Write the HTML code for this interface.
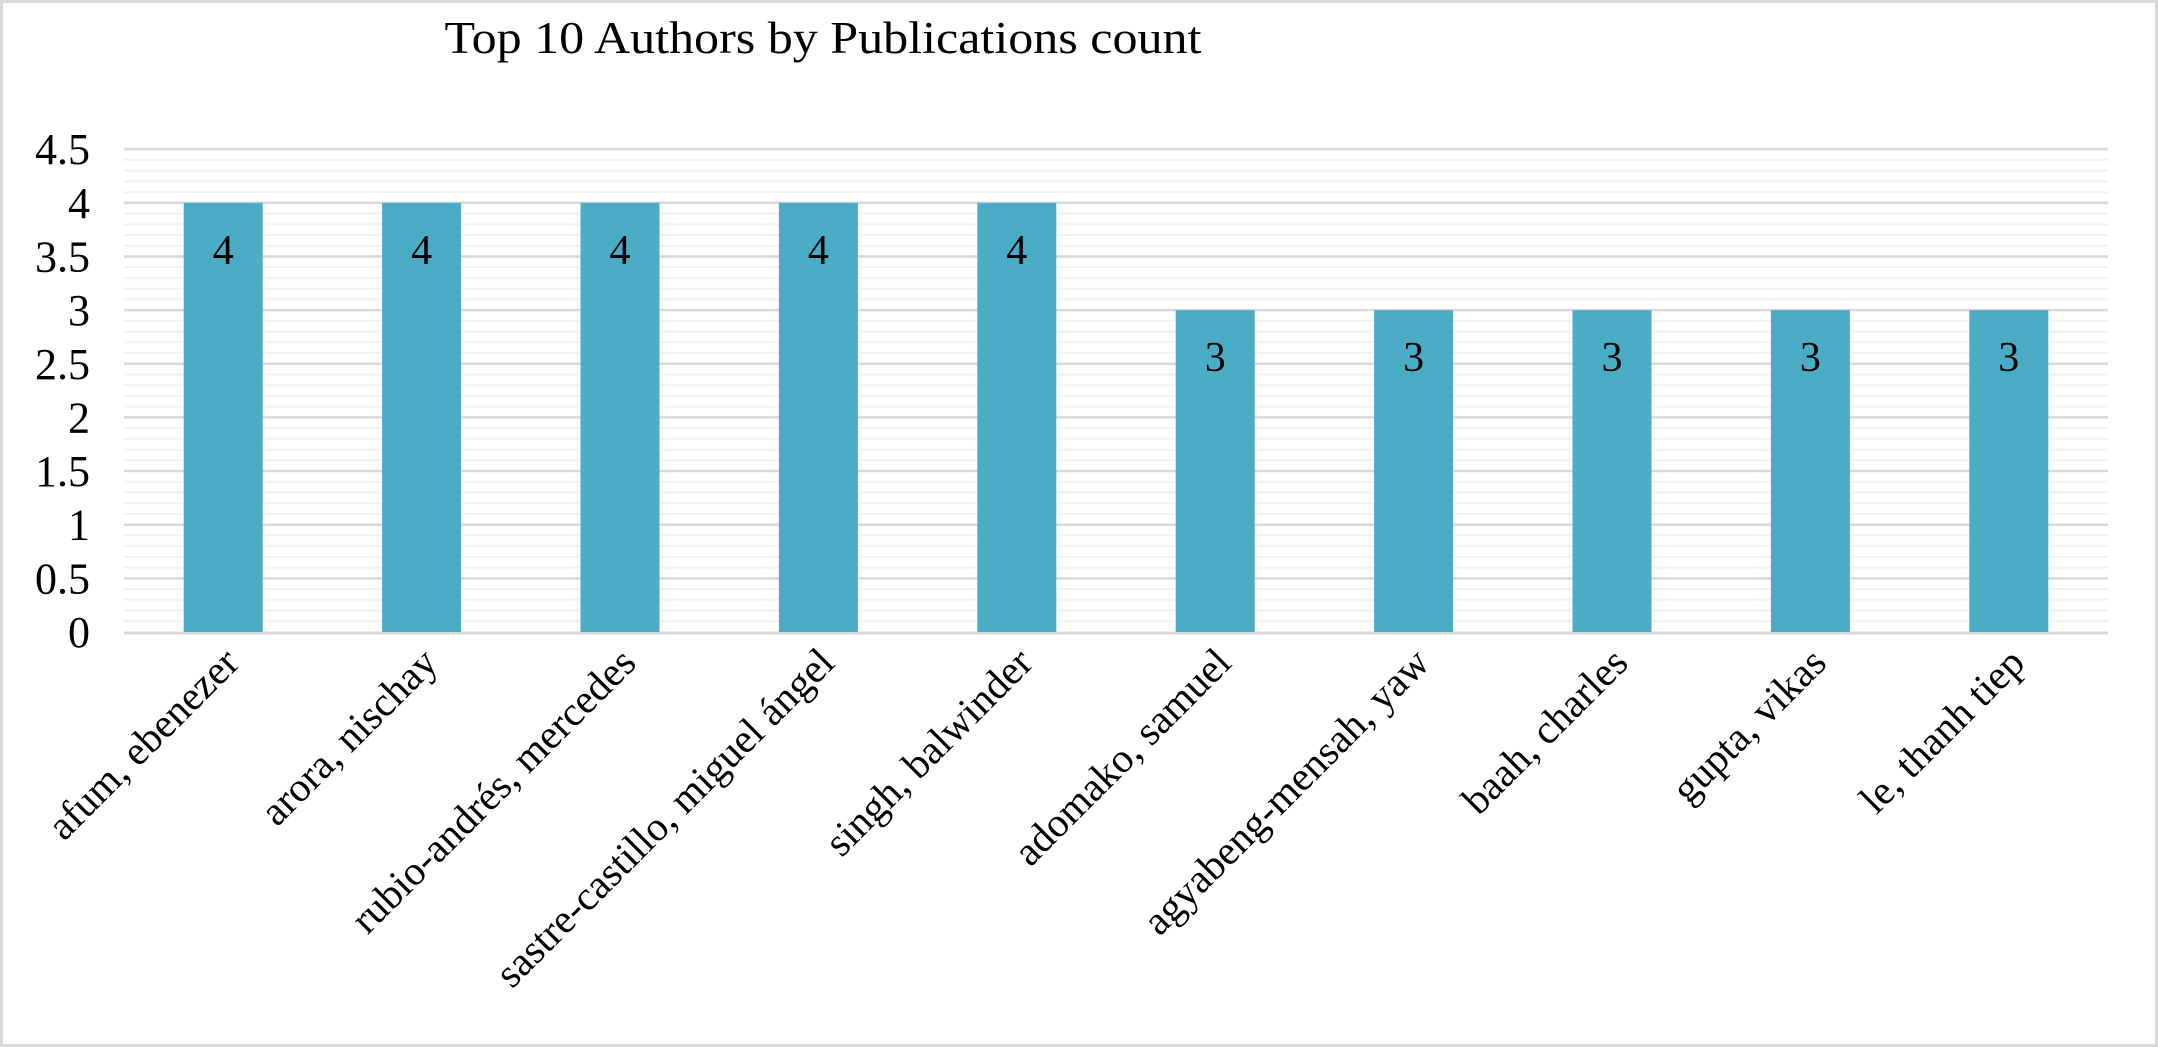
<!DOCTYPE html>
<html><head><meta charset="utf-8"><style>html,body{margin:0;padding:0;background:#fff}svg{display:block}</style></head>
<body>
<svg width="2158" height="1047" viewBox="0 0 2158 1047" xmlns="http://www.w3.org/2000/svg" font-family="'Liberation Serif', serif">
<rect x="1.5" y="1.5" width="2155" height="1044" fill="#fff" stroke="#d9d9d9" stroke-width="3"/>
<text x="823" y="53" font-size="45" text-anchor="middle" textLength="757" lengthAdjust="spacingAndGlyphs">Top 10 Authors by Publications count</text>
<g id="minor" stroke="#f2f2f2" stroke-width="2"></g>
<g id="major" stroke="#d9d9d9" stroke-width="2.5"></g>
<g id="ticks" font-size="44" text-anchor="end"></g>
<g id="bars"></g>
<g id="cats" font-size="41" text-anchor="end"></g>
<script>
var ns="http://www.w3.org/2000/svg",y0=632,u=107.3,L=124,R=2108;
function el(p,t,a,txt){var e=document.createElementNS(ns,t);for(var k in a)e.setAttribute(k,a[k]);if(txt!=null)e.textContent=txt;document.getElementById(p).appendChild(e);}
for(var i=1;i<=45;i++){if(i%5==0)continue;var y=y0-i*0.1*u;el('minor','line',{x1:L,x2:R,y1:y,y2:y});}
var labs=['0','0.5','1','1.5','2','2.5','3','3.5','4','4.5'];
for(var j=0;j<10;j++){var y=y0-j*0.5*u;if(j>0)el('major','line',{x1:L,x2:R,y1:y,y2:y});el('ticks','text',{x:90,y:y+15},labs[j]);}
el('major','line',{x1:L,x2:R,y1:y0+1,y2:y0+1,'stroke-width':3});
var names=['afum, ebenezer','arora, nischay','rubio-andrés, mercedes','sastre-castillo, miguel ángel','singh, balwinder','adomako, samuel','agyabeng-mensah, yaw','baah, charles','gupta, vikas','le, thanh tiep'];
var vals=[4,4,4,4,4,3,3,3,3,3],step=(R-L)/10;
for(var k=0;k<10;k++){var c=L+step*(k+0.5),t=y0-vals[k]*u;
el('bars','rect',{x:c-39.5,y:t,width:79,height:y0-t,fill:'#4bacc6'});
el('bars','text',{x:c,y:t+61,'font-size':42,'text-anchor':'middle'},String(vals[k]));
el('cats','text',{x:0,y:0,transform:'translate('+(c+18)+',665) rotate(-45)'},names[k]);}
</script>
</svg>
</body></html>
